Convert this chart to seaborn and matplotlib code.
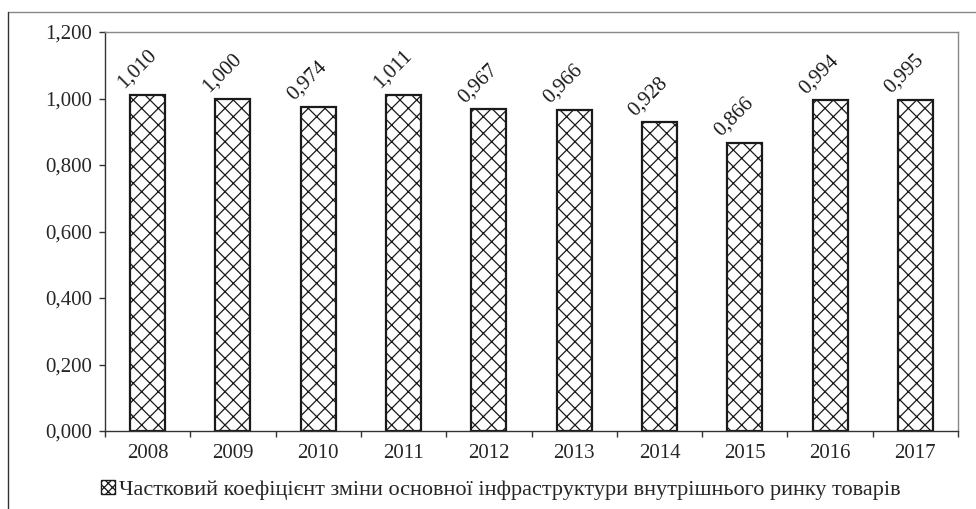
import matplotlib
matplotlib.use("Agg")
import matplotlib.pyplot as plt
import seaborn as sns
import pandas as pd
from matplotlib.lines import Line2D
from matplotlib.patches import Patch
from matplotlib.ticker import FuncFormatter, FixedLocator

years = ["2008", "2009", "2010", "2011", "2012", "2013", "2014", "2015", "2016", "2017"]
values = [1.010, 1.000, 0.974, 1.011, 0.967, 0.966, 0.928, 0.866, 0.994, 0.995]
series_name = "Частковий коефіцієнт зміни основної інфраструктури внутрішнього ринку товарів"

sns.set_style("white")
plt.rcParams["font.family"] = ["Liberation Serif", "DejaVu Serif"]
plt.rcParams["hatch.linewidth"] = 0.9

FS = 15
W, H = 976, 509
fig = plt.figure(figsize=(W / 100, H / 100), dpi=100)
ax = fig.add_axes([105 / W, 1 - 431 / H, (958 - 105) / W, (431 - 32) / H])

df = pd.DataFrame({"year": years, "value": values})
sns.barplot(data=df, x="year", y="value", color="white", edgecolor="#1a1a1a",
            linewidth=1.6, width=0.41, hatch="xx", ax=ax, saturation=1)

ax.set_xlim(-0.5, len(years) - 0.5)
ax.set_ylim(0, 1.2)
ax.set_yticks([0, 0.2, 0.4, 0.6, 0.8, 1.0, 1.2])
ax.yaxis.set_major_formatter(FuncFormatter(lambda v, p: f"{v:.3f}".replace(".", ",")))
ax.set_xlabel("")
ax.set_ylabel("")

ax.xaxis.set_minor_locator(FixedLocator([i - 0.5 for i in range(len(years) + 1)]))
ax.tick_params(axis="x", which="major", length=0, pad=9, labelsize=FS)
ax.tick_params(axis="x", which="minor", length=4, width=1, color="#333333", direction="out", bottom=True)
ax.tick_params(axis="y", which="major", length=4, width=1, color="#333333", direction="out", left=True, pad=5, labelsize=FS)

for s in ["left", "bottom"]:
    ax.spines[s].set_color("#333333")
    ax.spines[s].set_linewidth(1.0)
for s in ["top", "right"]:
    ax.spines[s].set_color("#888888")
    ax.spines[s].set_linewidth(1.0)

for i, v in enumerate(values):
    ax.annotate(f"{v:.3f}".replace(".", ","), xy=(i, v), xytext=(-11, 26),
                textcoords="offset pixels", ha="center", va="center",
                rotation=45, fontsize=FS, color="#1a1a1a")

# outer frame
fig.add_artist(Line2D([8 / W, 1], [1 - 12 / H, 1 - 12 / H], transform=fig.transFigure,
                      color="#888888", linewidth=1.0))
fig.add_artist(Line2D([8 / W, 8 / W], [0, 1 - 12 / H], transform=fig.transFigure,
                      color="#333333", linewidth=1.0))

handle = Patch(facecolor="white", edgecolor="#1a1a1a", hatch="xxxx", linewidth=1.0)
fig.legend([handle], [series_name], loc="center", bbox_to_anchor=(501 / W, 1 - 490 / H),
           frameon=False, fontsize=16, handlelength=0.6, handleheight=0.6,
           handletextpad=0.2, borderpad=0)

fig.savefig("out.png", dpi=100)
